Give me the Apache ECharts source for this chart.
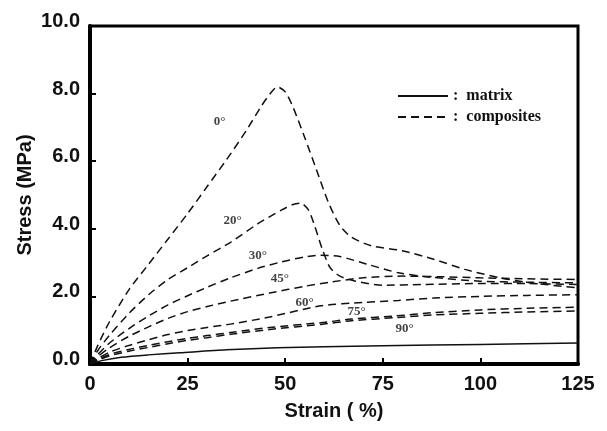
<!DOCTYPE html>
<html>
<head>
<meta charset="utf-8">
<script src="https://cdn.jsdelivr.net/npm/echarts@6/dist/echarts.min.js"></script>
<style>
  html, body { margin: 0; padding: 0; background: #fff; }
  #chart { width: 607px; height: 431px; }
</style>
</head>
<body>
<div id="chart"></div>
<script>
// Stress–strain curves: neat matrix and composites at several fibre angles.
// Each point is [strain (%), stress (MPa)].
const matrixCurve = [[0,0],[3,0.1],[8,0.2],[15,0.27],[23,0.33],[35,0.42],[48,0.48],[60,0.51],[75,0.54],[100,0.58],[125,0.62]];

const deg0 = [[0,0],[2,0.55],[5,1.25],[10,2.2],[15,2.95],[20,3.7],[25,4.45],[30,5.25],[35,6.05],[40,6.9],[44,7.65],[46.5,8.05],[48,8.2],[50,8.05],[52,7.6],[55,6.7],[58,5.75],[61,4.8],[64,4.1],[67,3.75],[72,3.5],[80,3.35],[88,3.1],[96,2.8],[105,2.55],[113,2.4],[125,2.25]];
const deg20 = [[0,0],[2,0.4],[5,0.85],[10,1.5],[15,2.05],[20,2.5],[25,2.85],[30,3.2],[36,3.6],[43,4.15],[49,4.55],[52,4.72],[54,4.76],[56,4.55],[57.5,4.1],[59.5,3.4],[61.5,2.85],[64,2.6],[68,2.45],[75,2.33],[85,2.35],[100,2.38],[112,2.38],[125,2.35]];
const deg30 = [[0,0],[2,0.28],[5,0.62],[10,1.05],[15,1.42],[20,1.75],[25,2.02],[30,2.27],[36,2.55],[43,2.83],[49,3.02],[55,3.17],[59,3.22],[64,3.18],[71,2.95],[79,2.7],[88,2.56],[100,2.45],[112,2.42],[125,2.4]];
const deg45 = [[0,0],[2,0.22],[5,0.48],[10,0.82],[15,1.1],[20,1.35],[25,1.55],[30,1.7],[36,1.86],[46,2.1],[55,2.3],[62,2.43],[70,2.55],[80,2.6],[90,2.58],[100,2.55],[112,2.52],[125,2.5]];
const deg60 = [[0,0],[2,0.16],[5,0.35],[10,0.55],[15,0.72],[20,0.87],[25,0.99],[30,1.08],[36,1.18],[46,1.39],[59,1.72],[70,1.82],[79,1.88],[88,1.95],[100,2.0],[112,2.03],[125,2.05]];
const deg75 = [[0,0],[2,0.13],[5,0.28],[10,0.43],[15,0.55],[20,0.66],[25,0.76],[30,0.84],[36,0.93],[46,1.08],[59,1.22],[67,1.33],[78,1.42],[88,1.52],[100,1.6],[112,1.65],[125,1.68]];
const deg90 = [[0,0],[2,0.11],[5,0.24],[10,0.38],[15,0.49],[20,0.6],[25,0.7],[30,0.78],[36,0.88],[46,1.02],[59,1.17],[67,1.28],[78,1.37],[88,1.45],[100,1.5],[112,1.54],[125,1.57]];

// Angle annotations placed beside their curves: [strain, stress, text]
const angleLabels = [[33.2,7.16,'0°'],[36.5,4.23,'20°'],[43,3.22,'30°'],[48.6,2.54,'45°'],[55,1.83,'60°'],[68.3,1.54,'75°'],[80.6,1.06,'90°']];

const xTicks = { min: 0, max: 125, interval: 25 };
const yTicks = { min: 0, max: 10, interval: 2 };

const ink = '#111';
const dash = [8, 5];

function compositeSeries(data) {
  return {
    name: 'composites', type: 'line', data: data, smooth: 0.25,
    symbol: 'none', lineStyle: { color: ink, width: 1.5, type: dash },
    itemStyle: { color: ink }, z: 3
  };
}

const chart = echarts.init(document.getElementById('chart'), null, { renderer: 'canvas' });
chart.setOption({
  animation: false,
  backgroundColor: '#fff',
  grid: { left: 90, right: 29, top: 26, bottom: 67, show: true, borderColor: '#000', borderWidth: 3, outerBoundsMode: 'none' },
  legend: {
    data: ['matrix', 'composites'], orient: 'vertical', left: 392, top: 83,
    itemWidth: 50, itemHeight: 12, itemGap: 5,
    itemStyle: { opacity: 0 },
    formatter: n => ':  ' + n,
    textStyle: { fontFamily: 'Liberation Serif', fontWeight: 'bold', fontSize: 16, color: ink }
  },
  xAxis: {
    type: 'value', min: xTicks.min, max: xTicks.max, interval: xTicks.interval,
    name: 'Strain ( %)', nameLocation: 'middle', nameGap: 37, nameMoveOverlap: false,
    nameTextStyle: { fontFamily: 'Liberation Sans', fontWeight: 'bold', fontSize: 20, color: ink },
    axisLine: { lineStyle: { color: '#000', width: 4 } },
    axisTick: { inside: true, length: 6, lineStyle: { color: '#000', width: 2 } },
    axisLabel: { margin: 10, fontFamily: 'Liberation Sans', fontWeight: 'bold', fontSize: 20, color: ink },
    splitLine: { show: false }
  },
  yAxis: {
    type: 'value', min: yTicks.min, max: yTicks.max, interval: yTicks.interval,
    name: 'Stress (MPa)', nameLocation: 'middle', nameGap: 55, nameMoveOverlap: false,
    nameTextStyle: { fontFamily: 'Liberation Sans', fontWeight: 'bold', fontSize: 20, color: ink },
    axisLine: { lineStyle: { color: '#000', width: 4 } },
    axisTick: { inside: true, length: 6, lineStyle: { color: '#000', width: 2 } },
    axisLabel: { margin: 10, verticalAlign: 'bottom', lineHeight: 9, formatter: v => v.toFixed(1),
      fontFamily: 'Liberation Sans', fontWeight: 'bold', fontSize: 20, color: ink },
    splitLine: { show: false }
  },
  series: [
    { name: 'matrix', type: 'line', data: matrixCurve, smooth: 0.25, symbol: 'none',
      lineStyle: { color: ink, width: 1.5, type: 'solid' }, itemStyle: { color: ink }, z: 3 },
    compositeSeries(deg0), compositeSeries(deg20), compositeSeries(deg30),
    compositeSeries(deg45), compositeSeries(deg60), compositeSeries(deg75), compositeSeries(deg90),
    { name: 'angles', type: 'scatter', data: angleLabels, symbolSize: 0, z: 5,
      label: { show: true, position: 'inside', formatter: p => p.data[2],
        fontFamily: 'Liberation Serif', fontWeight: 'bold', fontSize: 13, color: ink } }
  ]
});
</script>
</body>
</html>
